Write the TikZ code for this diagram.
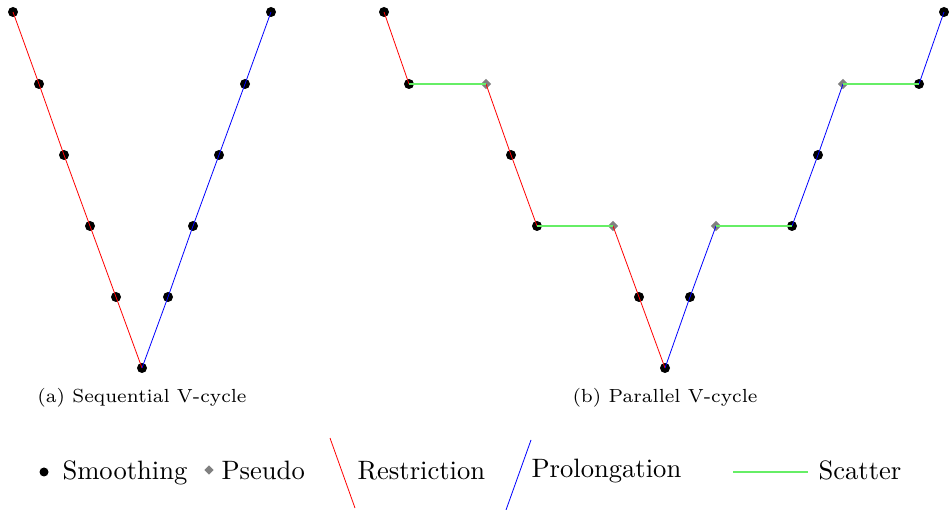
\documentclass[tikz,border=0pt]{standalone}
\usetikzlibrary{shapes.geometric}
\definecolor{scattergreen}{RGB}{102,238,102}
\definecolor{pseudogray}{RGB}{128,128,128}
\tikzset{
  smoothpt/.style={circle,fill=black,inner sep=0pt,minimum size=10pt},
  pseudopt/.style={diamond,fill=pseudogray,inner sep=0pt,minimum size=10.5pt},
  restr/.style={draw=red,line width=0.8pt},
  prolong/.style={draw=blue,line width=0.8pt},
  scat/.style={draw=scattergreen,line width=1.6pt},
  legtext/.style={anchor=base west,inner sep=0pt,scale=2.66,font=\normalsize},
  captext/.style={inner sep=0pt,scale=2.56,font=\fontsize{7.4}{9}\selectfont}
}
\begin{document}
\begin{tikzpicture}[x=1pt,y=-1pt]
\useasboundingbox (0,0) rectangle (951,510);
% (a) sequential
\node[smoothpt] (a0) at (13,12) {};
\node[smoothpt] (a1) at (39,84) {};
\node[smoothpt] (a2) at (64,155) {};
\node[smoothpt] (a3) at (90,226) {};
\node[smoothpt] (a4) at (116,297) {};
\node[smoothpt] (a5) at (142,368) {};
\node[smoothpt] (a6) at (168,297) {};
\node[smoothpt] (a7) at (193,226) {};
\node[smoothpt] (a8) at (219,155) {};
\node[smoothpt] (a9) at (245,84) {};
\node[smoothpt] (a10) at (271,12) {};
\draw[restr] (a0.center) -- (a1.center) -- (a2.center) -- (a3.center) -- (a4.center) -- (a5.center);
\draw[prolong] (a5.center) -- (a6.center) -- (a7.center) -- (a8.center) -- (a9.center) -- (a10.center);
% (b) parallel
\node[smoothpt] (b0) at (384,12) {};
\node[smoothpt] (b1) at (409,84) {};
\node[pseudopt] (b2) at (486,84) {};
\node[smoothpt] (b3) at (511,155) {};
\node[smoothpt] (b4) at (537,226) {};
\node[pseudopt] (b5) at (613,226) {};
\node[smoothpt] (b6) at (639,297) {};
\node[smoothpt] (b7) at (665,368) {};
\node[smoothpt] (b8) at (690,297) {};
\node[pseudopt] (b9) at (716,226) {};
\node[smoothpt] (b10) at (792,226) {};
\node[smoothpt] (b11) at (818,155) {};
\node[pseudopt] (b12) at (843,84) {};
\node[smoothpt] (b13) at (919,84) {};
\node[smoothpt] (b14) at (944,12) {};
\draw[restr] (b0.center) -- (b1.center);
\draw[restr] (b2.center) -- (b3.center) -- (b4.center);
\draw[restr] (b5.center) -- (b6.center) -- (b7.center);
\draw[prolong] (b7.center) -- (b8.center) -- (b9.center);
\draw[prolong] (b10.center) -- (b11.center) -- (b12.center);
\draw[prolong] (b13.center) -- (b14.center);
\draw[scat] (b1.center) -- (b2.center);
\draw[scat] (b4.center) -- (b5.center);
\draw[scat] (b9.center) -- (b10.center);
\draw[scat] (b12.center) -- (b13.center);
% captions
\node[captext] (capa) at (142,398) {(a)\ Sequential V-cycle};
\node[captext] (capb) at (665,398) {(b)\ Parallel V-cycle};
% legend
\node[circle,fill=black,inner sep=0pt,minimum size=9pt] (lsm) at (44,472) {};
\node[legtext] (tsm) at (62,480) {Smoothing};
\node[diamond,fill=pseudogray,inner sep=0pt,minimum size=9.5pt] (lps) at (209,470) {};
\node[legtext] (tps) at (221,480) {Pseudo};
\coordinate (lr1) at (330,438);
\coordinate (lr2) at (355,508);
\draw[draw=red,line width=0.8pt] (lr1) -- (lr2);
\node[legtext] (trs) at (357,480) {Restriction};
\coordinate (lp1) at (531,440);
\coordinate (lp2) at (506,510);
\draw[draw=blue,line width=0.8pt] (lp1) -- (lp2);
\node[legtext] (tpr) at (531,478) {Prolongation};
\coordinate (lg1) at (733,472);
\coordinate (lg2) at (808,472);
\draw[scat] (lg1) -- (lg2);
\node[legtext] (tsc) at (818,480) {Scatter};
\end{tikzpicture}
\end{document}
